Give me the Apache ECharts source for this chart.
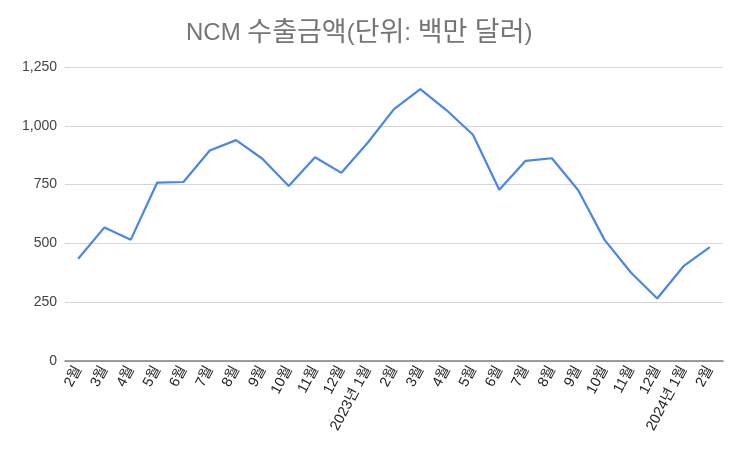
<!DOCTYPE html>
<html>
<head>
<meta charset="utf-8">
<script src="https://cdn.jsdelivr.net/npm/echarts@6/dist/echarts.min.js"></script>
<style>
  html, body { margin: 0; padding: 0; background: #fff; }
  #chart { width: 742px; height: 457px; }
</style>
</head>
<body>
<div id="chart"></div>
<script>
// 월 라벨 (2022년 2월 ~ 2024년 2월)
var months = ['2월', '3월', '4월', '5월', '6월', '7월', '8월', '9월', '10월', '11월', '12월',
  '2023년 1월', '2월', '3월', '4월', '5월', '6월', '7월', '8월', '9월', '10월', '11월', '12월',
  '2024년 1월', '2월'];
// NCM 수출금액 (백만 달러)
var values = [435, 568, 516, 758, 761, 895, 939, 860, 744, 866, 800,
  928, 1071, 1156, 1066, 962, 728, 851, 862, 726, 515, 376, 266, 403, 484];
var yTicks = [0, 250, 500, 750, 1000, 1250];

var fontFam = '"Liberation Sans", Arial, "Noto Sans CJK KR", sans-serif';

var myChart = echarts.init(document.getElementById('chart'));
var option = {
  backgroundColor: '#fff',
  animation: false,
  title: {
    text: '{a|NCM }{k|수출금액}{a|(}{k|단위}{a|: }{k|백만 달러}{a|)}',
    left: 181,
    top: 15,
    textStyle: {
      color: '#757575',
      fontFamily: fontFam,
      fontSize: 24,
      fontWeight: 'normal',
      rich: {
        a: { color: '#757575', fontSize: 24, fontFamily: fontFam },
        k: { color: '#757575', fontSize: 27, fontFamily: fontFam }
      }
    }
  },
  grid: {
    left: 65,
    right: 19,
    top: 67,
    bottom: 96,
    containLabel: false
  },
  xAxis: {
    type: 'category',
    data: months,
    boundaryGap: true,
    axisLine: { lineStyle: { color: '#808080', width: 1.5 } },
    axisTick: { show: false },
    axisLabel: {
      rotate: 62,
      interval: 0,
      margin: 6,
      color: '#222',
      fontSize: 14.5,
      fontFamily: fontFam
    }
  },
  yAxis: {
    type: 'value',
    min: yTicks[0],
    max: yTicks[yTicks.length - 1],
    interval: 250,
    axisLine: { show: false },
    axisTick: { show: false },
    splitLine: { lineStyle: { color: '#d6d6d6', width: 1 } },
    axisLabel: {
      color: '#444',
      fontSize: 14,
      margin: 8,
      fontFamily: fontFam,
      formatter: function (v) { return v.toLocaleString('en-US'); }
    }
  },
  series: [{
    type: 'line',
    data: values,
    symbol: 'none',
    lineStyle: { color: '#4a86e8', width: 2.2 },
    itemStyle: { color: '#4a86e8' }
  }]
};
myChart.setOption(option);
</script>
</body>
</html>
